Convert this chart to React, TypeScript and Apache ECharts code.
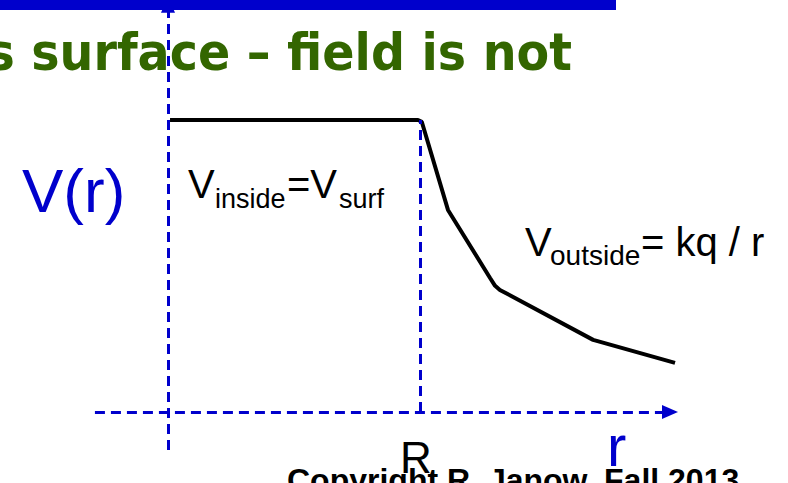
import React, { useEffect, useRef } from "react";
import * as echarts from "echarts";

// Potential curve V(r): r in units of R, V in units of V_surf
const rPoints = [0.008, 0.992, 1.007, 1.111, 1.278, 1.298, 1.317, 1.687, 2.012];
const vPoints = [1.0, 1.0, 0.994, 0.692, 0.459, 0.432, 0.418, 0.247, 0.168];

// Axis extents (data units)
const rAxisRange = [-0.29, 1.992];
const vAxisRange = [-0.13, 1.395];
const surfaceR = 1;
const surfaceV = 1;

// View window
const X_MIN = -0.6667;
const X_MAX = 2.4603;
const Y_MIN = -0.2432;
const Y_MAX = 1.411;

const BLUE = "#0000CC";
const ARIAL = "'Liberation Sans', Arial, sans-serif";

function txt(text: string, x: number, baseline: number, size: number, fill: string, extra: any = {}) {
  return {
    type: "text",
    x,
    y: baseline - size * 0.35,
    silent: true,
    z: 10,
    ...extra,
    style: {
      text,
      fill,
      font: `${extra.weight || "normal"} ${size}px ${extra.family || ARIAL}`,
      verticalAlign: "middle",
      align: extra.align || "left",
    },
  };
}

export default function App() {
  const ref = useRef<HTMLDivElement>(null);
  useEffect(() => {
    if (!ref.current) return;
    const chart = echarts.init(ref.current, undefined, { renderer: "svg" });
    const dash = { color: BLUE, width: 3, type: [10, 6] };
    chart.setOption({
      animation: false,
      backgroundColor: "#ffffff",
      grid: { left: 0, right: 0, top: 0, bottom: 0 },
      xAxis: { type: "value", min: X_MIN, max: X_MAX, show: false },
      yAxis: { type: "value", min: Y_MIN, max: Y_MAX, show: false },
      series: [
        {
          type: "line",
          data: rPoints.map((r, i) => [r, vPoints[i]]),
          symbol: "none",
          lineStyle: { color: "#000000", width: 4 },
          silent: true,
          z: 3,
          markLine: {
            silent: true,
            symbolSize: [14, 16],
            label: { show: false },
            lineStyle: dash,
            emphasis: { disabled: true },
            data: [
              [
                { coord: [rAxisRange[0], 0], symbol: "none" },
                { coord: [rAxisRange[1], 0], symbol: "triangle" },
              ],
              [
                { coord: [0, vAxisRange[0]], symbol: "none" },
                { coord: [0, vAxisRange[1]], symbol: "triangle" },
              ],
              [
                { coord: [surfaceR, 0], symbol: "none" },
                { coord: [surfaceR, surfaceV], symbol: "none" },
              ],
            ],
          },
        },
      ],
      graphic: [
        { type: "rect", shape: { x: -5, y: 0, width: 621, height: 10 }, style: { fill: BLUE }, z: 1, silent: true },
        txt("s surface – field is not", 572, 70, 52, "#336600", {
          align: "right",
          weight: "bold",
          family: "'DejaVu Sans', sans-serif",
          scaleX: 0.915,
        }),
        txt("V(r)", 22, 212, 62, BLUE),
        txt("V", 188, 198, 40, "#000"),
        txt("inside", 215, 208, 27, "#000"),
        txt("=V", 287, 198, 40, "#000"),
        txt("surf", 339, 208, 27, "#000"),
        txt("V", 525, 256, 40, "#000"),
        txt("outside", 550, 265, 28, "#000"),
        txt("= kq / r", 641, 256, 40, "#000"),
        txt("R", 400, 473, 44, "#000"),
        txt("r", 607, 466, 58, BLUE),
        txt("Copyright R. Janow, Fall 2013", 287, 491, 32, "#000", { weight: "bold" }),
      ],
    });
    return () => chart.dispose();
  }, []);
  return (
    <div
      ref={ref}
      style={{ position: "absolute", left: 0, top: 0, width: 788, height: 483, background: "#fff" }}
    />
  );
}
